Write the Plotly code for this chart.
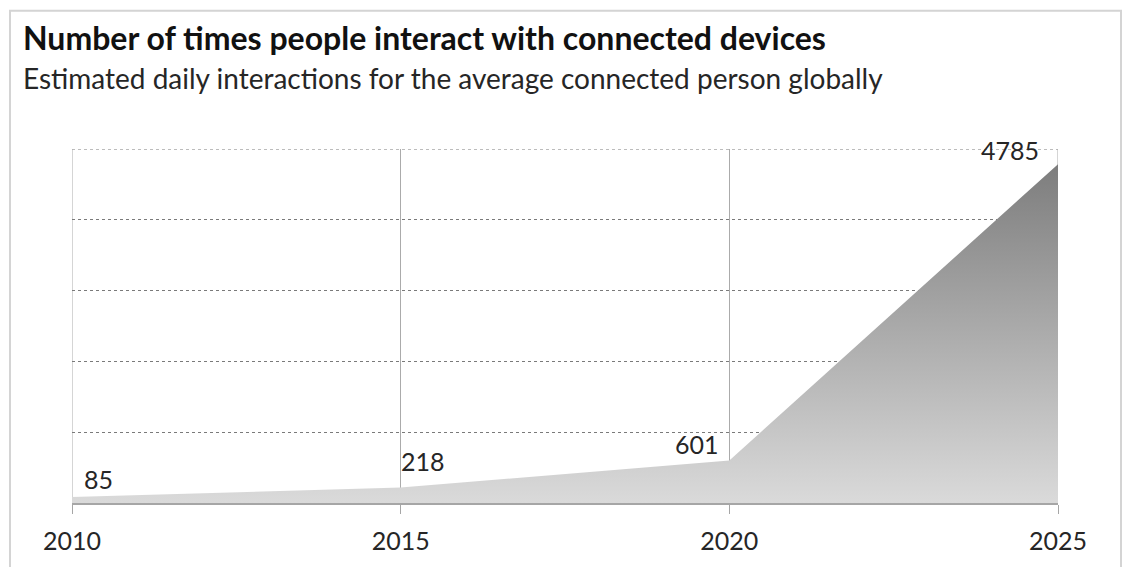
import plotly.graph_objects as go

years = [2010, 2015, 2020, 2025]
interactions = [85, 218, 601, 4785]
tick_labels = ["2010", "2015", "2020", "2025"]
title = "Number of times people interact with connected devices"
subtitle = "Estimated daily interactions for the average connected person globally"

# page body has an 8px margin; work in figure pixel coordinates
OFF = 8
W, H = 1114, 559
L, R, T, B = 64, 64, 141, 62
pw, ph = W - L - R, H - T - B

def px_x(x):
    return (x - OFF - L) / pw

def px_y(y):
    return (H - B - (y - OFF)) / ph

font = "Lato, 'Open Sans', sans-serif"
grid_v = "#ababab"
grid_h = "#7a7a7a"

fig = go.Figure()
fig.add_trace(go.Scatter(
    x=years, y=interactions, mode="lines", fill="tozeroy",
    line=dict(width=0, color="rgba(0,0,0,0)"),
    fillgradient=dict(type="vertical",
                      colorscale=[[0, "#dadada"], [1, "#7d7d7d"]]),
    hoverinfo="skip", showlegend=False,
))

# edge gridlines (plotly clips gridlines at the range ends)
fig.add_shape(type="line", xref="x", yref="y", x0=years[0], x1=years[-1],
              y0=5000, y1=5000, line=dict(color=grid_h, width=1, dash="dot"),
              layer="below")
for xv in (years[0], years[-1]):
    fig.add_shape(type="line", xref="x", yref="y", x0=xv, x1=xv, y0=0, y1=5000,
                  line=dict(color=grid_v, width=1), layer="below")

# data labels
shifts = [(26, 18), (22, 27), (-32, 16), (-48, 14)]
for x, v, (dx, dy) in zip(years, interactions, shifts):
    fig.add_annotation(x=x, y=v, xref="x", yref="y", text=str(v),
                       showarrow=False, xshift=dx, yshift=dy,
                       font=dict(family=font, size=25, color="#262626"))

fig.add_annotation(x=px_x(21), y=px_y(37), xref="paper", yref="paper",
                   text="<b>" + title + "</b>", showarrow=False,
                   xanchor="left", yanchor="middle",
                   font=dict(family=font, size=32, color="#111111"))
fig.add_annotation(x=px_x(21), y=px_y(78), xref="paper", yref="paper",
                   text=subtitle, showarrow=False,
                   xanchor="left", yanchor="middle",
                   font=dict(family=font, size=28, color="#262626"))

fig.add_shape(type="rect", xref="paper", yref="paper",
              x0=px_x(10), x1=px_x(1121), y0=px_y(620), y1=px_y(10),
              line=dict(color="#d4d4d4", width=2), layer="below")

fig.update_layout(
    width=W, height=H,
    margin=dict(l=L, r=R, t=T, b=B),
    paper_bgcolor="white", plot_bgcolor="white",
    xaxis=dict(range=[2010, 2025], tickvals=years, ticktext=tick_labels,
               showgrid=True, gridcolor=grid_v, gridwidth=1,
               showline=True, linecolor="#a6a6a6", linewidth=1.5,
               ticks="outside", ticklen=9, tickcolor="#a6a6a6",
               ticklabelstandoff=6,
               tickfont=dict(family=font, size=25, color="#262626"),
               zeroline=False, fixedrange=True),
    yaxis=dict(range=[0, 5000], dtick=1000, showticklabels=False,
               showgrid=True, gridcolor=grid_h, griddash="dot",
               gridwidth=1, zeroline=False, showline=False, ticks="",
               fixedrange=True),
)

fig.write_html("out.html")
